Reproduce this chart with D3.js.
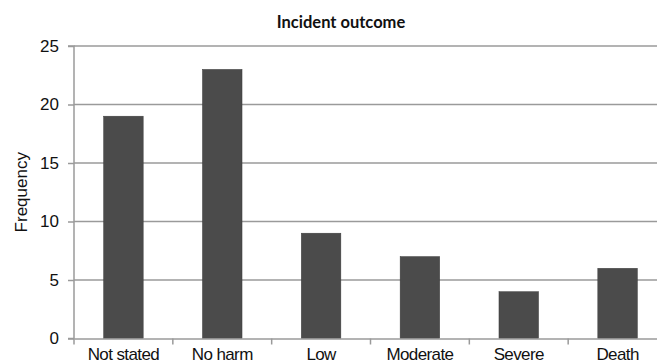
<!DOCTYPE html>
<html><head><meta charset="utf-8">
<script src="https://cdn.jsdelivr.net/npm/d3@7"></script>
<style>body{margin:0;background:#fff}svg{display:block}</style>
</head><body>
<script>
const categories = ["Not stated","No harm","Low","Moderate","Severe","Death"];
const frequency = [19,23,9,7,4,6];
const yTicks = [0,5,10,15,20,25];
const title = "Incident outcome";
const yLabel = "Frequency";

const W=657,H=363;
const m={left:74,right:-10,top:46,bottom:24.5};
const svg=d3.select("body").append("svg").attr("width",W).attr("height",H);
const x=d3.scaleBand().domain(categories).range([m.left,W-m.right]).paddingInner(0.6).paddingOuter(0.3);
const y=d3.scaleLinear().domain([0,25]).range([H-m.bottom,m.top]);
const font="Liberation Sans, Arial, sans-serif";

// gridlines
svg.append("g").selectAll("line").data(yTicks.filter(d=>d>0)).join("line")
 .attr("x1",m.left).attr("x2",W-m.right).attr("y1",d=>y(d)).attr("y2",d=>y(d))
 .attr("stroke","#9a9a9a").attr("stroke-width",1.5);

// bars
svg.append("g").selectAll("rect").data(frequency).join("rect")
 .attr("x",(d,i)=>x(categories[i])).attr("width",x.bandwidth())
 .attr("y",d=>y(d)).attr("height",d=>y(0)-y(d))
 .attr("fill","#4b4b4b").attr("stroke","#3a3a3a").attr("stroke-width",0.5);

// y axis
const ya=svg.append("g").attr("transform",`translate(${m.left},0)`)
 .call(d3.axisLeft(y).tickValues(yTicks).tickSize(6).tickPadding(9));
ya.select(".domain").attr("stroke","#9a9a9a").attr("stroke-width",1.5).attr("d",`M-6,${y(0)}H0V${y(25)}H-6`);
ya.selectAll(".tick line").attr("stroke","#9a9a9a").attr("stroke-width",1.5);
ya.selectAll(".tick text").attr("font-family",font).attr("font-size",17).attr("fill","#111");

// x axis
const xa=svg.append("g").attr("transform",`translate(0,${y(0)})`)
 .call(d3.axisBottom(x).tickSize(0).tickPadding(9));
xa.select(".domain").attr("stroke","#9a9a9a").attr("stroke-width",1.5);
xa.selectAll(".tick text").attr("font-family",font).attr("font-size",17).attr("fill","#111").attr("letter-spacing","-0.6px");
// category boundary ticks
const step=x.step();
const x0=x(categories[0])-x.paddingOuter()*step;
svg.append("g").selectAll("line").data(d3.range(categories.length+1)).join("line")
 .attr("x1",i=>x0+i*step).attr("x2",i=>x0+i*step)
 .attr("y1",y(0)).attr("y2",y(0)+6)
 .attr("stroke","#9a9a9a").attr("stroke-width",1.5);

svg.append("text").attr("x",341).attr("y",28).attr("text-anchor","middle")
 .attr("font-family","Lato, Carlito, sans-serif").attr("font-weight","bold").attr("font-size",16.5).attr("fill","#111").text(title);
svg.append("text").attr("transform",`translate(27,${(y(0)+y(25))/2}) rotate(-90)`).attr("text-anchor","middle")
 .attr("font-family",font).attr("font-size",17).attr("fill","#111").text(yLabel);
</script>
</body></html>
